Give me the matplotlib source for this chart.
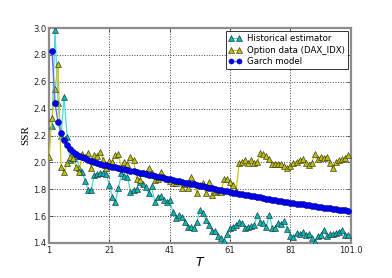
import matplotlib
matplotlib.use("Agg")
import matplotlib.pyplot as plt

# ---- data ----
hist_x = list(range(1, 100))
hist_vals = [2.27, 2.985, 2.44, 2.20, 2.49, 2.19, 2.02, 2.03, 2.05, 1.96,
             1.93, 1.864, 1.795, 1.795, 1.906, 1.915, 1.918, 1.918, 1.91, 1.832,
             1.745, 1.708, 1.807, 1.918, 1.90, 1.894, 1.782, 1.795, 1.80, 1.857,
             1.84, 1.82, 1.77, 1.824, 1.708, 1.745, 1.75, 1.72, 1.708, 1.72,
             1.633, 1.584, 1.609, 1.591, 1.559, 1.522, 1.522, 1.509, 1.559, 1.646,
             1.626, 1.571, 1.534, 1.492, 1.492, 1.452, 1.435, 1.418, 1.467, 1.514,
             1.522, 1.534, 1.559, 1.546, 1.514, 1.522, 1.527, 1.534, 1.608, 1.559,
             1.546, 1.522, 1.608, 1.509, 1.509, 1.546, 1.539, 1.566, 1.504, 1.455,
             1.447, 1.472, 1.467, 1.48, 1.46, 1.465, 1.435, 1.405, 1.455, 1.46,
             1.497, 1.45, 1.467, 1.465, 1.472, 1.485, 1.497, 1.46, 1.46]

opt_x = list(range(0, 100))
opt_vals = [2.04, 2.33, 2.55, 2.73, 1.963, 1.93, 1.993, 2.04, 2.03, 1.963,
            1.93, 2.06, 2.04, 2.07, 1.955, 2.055, 2.05, 2.08, 2.018, 1.96,
            2.01, 2.00, 2.055, 2.06, 1.955, 2.0, 1.99, 2.04, 2.02, 1.88,
            1.87, 1.923, 1.918, 1.96, 1.918, 1.87, 1.88, 1.93, 1.894, 1.88,
            1.86, 1.844, 1.85, 1.86, 1.807, 1.84, 1.807, 1.894, 1.849, 1.77,
            1.832, 1.85, 1.77, 1.857, 1.757, 1.782, 1.785, 1.78, 1.874, 1.874,
            1.857, 1.832, 1.787, 1.993, 2.005, 2.018, 1.993, 2.018, 1.998, 2.0,
            2.067, 2.06, 2.048, 2.025, 1.986, 1.99, 1.99, 1.988, 1.973, 1.955,
            1.975, 1.998, 2.005, 2.018, 2.023, 1.998, 1.98, 1.993, 2.06, 2.023,
            2.043, 2.035, 2.043, 1.998, 1.955, 2.0, 2.018, 2.023, 2.03, 2.055]

garch_x = list(range(1, 100))
garch_vals = [2.83, 2.44, 2.30, 2.22, 2.165, 2.13, 2.10, 2.08, 2.065, 2.05,
              2.04, 2.03, 2.02, 2.012, 2.004, 1.997, 1.990, 1.984, 1.978, 1.973,
              1.968, 1.963, 1.958, 1.953, 1.948, 1.943, 1.938, 1.933, 1.928, 1.923,
              1.918, 1.913, 1.908, 1.903, 1.898, 1.893, 1.888, 1.883, 1.878, 1.874,
              1.869, 1.864, 1.859, 1.854, 1.850, 1.845, 1.840, 1.836, 1.831, 1.826,
              1.822, 1.817, 1.812, 1.808, 1.803, 1.798, 1.794, 1.789, 1.784, 1.780,
              1.775, 1.771, 1.767, 1.763, 1.759, 1.755, 1.751, 1.747, 1.743, 1.739,
              1.735, 1.731, 1.727, 1.723, 1.719, 1.715, 1.711, 1.707, 1.704, 1.700,
              1.697, 1.693, 1.690, 1.687, 1.683, 1.680, 1.677, 1.673, 1.670, 1.667,
              1.664, 1.660, 1.657, 1.654, 1.651, 1.648, 1.645, 1.642, 1.640]

xtick_pos = [0, 20, 40, 60, 80, 100]
xtick_labels = ["1", "21", "41", "61", "81", "101.0"]
ytick_pos = [1.4, 1.6, 1.8, 2.0, 2.2, 2.4, 2.6, 2.8, 3.0]
ytick_labels = ["1.4", "1.6", "1.8", "2.0", "2.2", "2.4", "2.6", "2.8", "3.0"]

# ---- plot ----
fig = plt.figure(figsize=(3.92, 2.78), dpi=100)
ax = fig.add_axes([0.125, 0.126, 0.770, 0.773])

ax.plot(hist_x, hist_vals, color=(0.3, 0.85, 0.85), lw=0.9, marker='^',
        ms=4.6, mfc=(0.0, 0.72, 0.72), mec='#222222', mew=0.4,
        label='Historical estimator', zorder=3)
ax.plot(opt_x, opt_vals, color=(0.78, 0.78, 0.1), lw=0.9, marker='^',
        ms=4.6, mfc=(0.75, 0.75, 0.0), mec='#222222', mew=0.4,
        label='Option data (DAX_IDX)', zorder=3)
ax.plot(garch_x, garch_vals, color=(0.4, 0.4, 1.0), lw=1.0, marker='o',
        ms=4.3, mfc=(0.0, 0.0, 1.0), mec=(0.0, 0.0, 0.5), mew=0.4,
        label='Garch model', zorder=4)

ax.set_xlim(0, 100)
ax.set_ylim(1.4, 3.0)
ax.set_xticks(xtick_pos)
ax.set_xticklabels(xtick_labels)
ax.set_yticks(ytick_pos)
ax.set_yticklabels(ytick_labels)
ax.tick_params(direction='in', labelsize=6, length=3, width=0.5,
               top=True, right=True, pad=2, colors='#222222')
ax.grid(True, linestyle=':', color='#444444', linewidth=0.7)

for s in ax.spines.values():
    s.set_color('#8c8c8c')
    s.set_linewidth(1.6)

ax.set_xlabel('$T$', fontsize=9, labelpad=1)
ax.set_ylabel('SSR', fontsize=8, family='Liberation Serif', labelpad=2)

leg = ax.legend(loc='upper right', fontsize=6.2, numpoints=2, fancybox=False,
                borderaxespad=0.35, handlelength=1.5, labelspacing=0.3,
                borderpad=0.35, handletextpad=0.6, markerscale=0.85)
leg.get_frame().set_edgecolor('black')
leg.get_frame().set_linewidth(0.7)

fig.savefig('out.png', dpi=100)
